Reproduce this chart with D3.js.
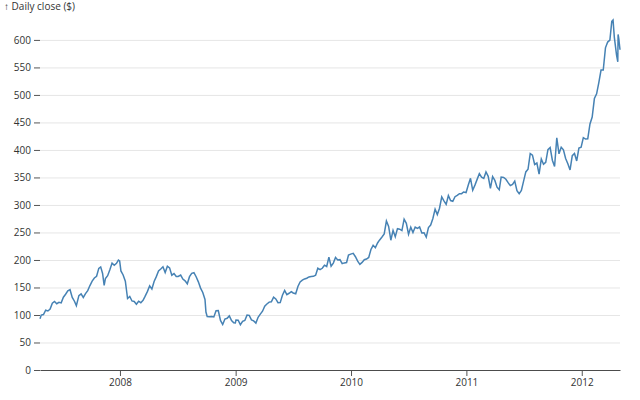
<!DOCTYPE html>
<html>
<head>
<meta charset="utf-8">
<script src="https://cdn.jsdelivr.net/npm/d3@7"></script>
<style>
  html, body { margin: 0; padding: 0; background: #fff; }
  svg { display: block; }
</style>
</head>
<body>
<div id="chart"></div>
<script>
const dates = [
  "2007-04-23","2007-04-27","2007-05-04","2007-05-11","2007-05-18","2007-05-25","2007-06-01","2007-06-08","2007-06-15","2007-06-22","2007-06-29",
  "2007-07-06","2007-07-13","2007-07-20","2007-07-27","2007-08-03","2007-08-10","2007-08-16","2007-08-24","2007-08-31",
  "2007-09-07","2007-09-14","2007-09-21","2007-09-28","2007-10-05","2007-10-12","2007-10-19","2007-10-26","2007-11-01","2007-11-07","2007-11-12","2007-11-16","2007-11-23","2007-11-30",
  "2007-12-07","2007-12-14","2007-12-21","2007-12-27","2007-12-31",
  "2008-01-04","2008-01-11","2008-01-18","2008-01-23","2008-01-25","2008-02-01","2008-02-08","2008-02-15","2008-02-22","2008-02-29",
  "2008-03-07","2008-03-14","2008-03-20","2008-03-28","2008-04-04","2008-04-11","2008-04-18","2008-04-25","2008-05-02","2008-05-09","2008-05-16","2008-05-23","2008-05-30",
  "2008-06-06","2008-06-13","2008-06-20","2008-06-27","2008-07-03","2008-07-11","2008-07-18","2008-07-25","2008-08-01","2008-08-08","2008-08-15","2008-08-22","2008-08-29",
  "2008-09-05","2008-09-12","2008-09-19","2008-09-26","2008-09-29","2008-10-03","2008-10-10","2008-10-17","2008-10-24","2008-10-31",
  "2008-11-07","2008-11-14","2008-11-21","2008-11-28","2008-12-05","2008-12-12","2008-12-19","2008-12-26","2008-12-31",
  "2009-01-02","2009-01-09","2009-01-16","2009-01-23","2009-01-30","2009-02-06","2009-02-13","2009-02-20","2009-02-27",
  "2009-03-06","2009-03-13","2009-03-20","2009-03-27","2009-04-03","2009-04-09","2009-04-17","2009-04-24","2009-05-01","2009-05-08","2009-05-15","2009-05-22","2009-05-29",
  "2009-06-05","2009-06-12","2009-06-19","2009-06-26","2009-07-02","2009-07-10","2009-07-17","2009-07-24","2009-07-31",
  "2009-08-07","2009-08-14","2009-08-21","2009-08-28","2009-09-04","2009-09-11","2009-09-18","2009-09-25",
  "2009-10-02","2009-10-09","2009-10-16","2009-10-23","2009-10-30","2009-11-06","2009-11-13","2009-11-20","2009-11-27",
  "2009-12-04","2009-12-11","2009-12-18","2009-12-24","2009-12-31",
  "2010-01-08","2010-01-15","2010-01-22","2010-01-29","2010-02-05","2010-02-12","2010-02-19","2010-02-26",
  "2010-03-05","2010-03-12","2010-03-19","2010-03-26","2010-04-01","2010-04-09","2010-04-16","2010-04-23","2010-04-30",
  "2010-05-07","2010-05-14","2010-05-21","2010-05-28","2010-06-04","2010-06-11","2010-06-18","2010-06-25",
  "2010-07-02","2010-07-09","2010-07-16","2010-07-23","2010-07-30","2010-08-06","2010-08-13","2010-08-20","2010-08-27",
  "2010-09-03","2010-09-10","2010-09-17","2010-09-24","2010-10-01","2010-10-08","2010-10-15","2010-10-22","2010-10-29",
  "2010-11-05","2010-11-12","2010-11-19","2010-11-26","2010-12-03","2010-12-10","2010-12-17","2010-12-23","2010-12-31",
  "2011-01-07","2011-01-14","2011-01-21","2011-01-28","2011-02-04","2011-02-11","2011-02-18","2011-02-25",
  "2011-03-04","2011-03-11","2011-03-18","2011-03-25","2011-04-01","2011-04-08","2011-04-15","2011-04-21","2011-04-29",
  "2011-05-06","2011-05-13","2011-05-20","2011-05-27","2011-06-03","2011-06-10","2011-06-17","2011-06-24",
  "2011-07-01","2011-07-08","2011-07-15","2011-07-22","2011-07-29","2011-08-05","2011-08-12","2011-08-19","2011-08-26",
  "2011-09-02","2011-09-09","2011-09-16","2011-09-23","2011-09-30","2011-10-07","2011-10-14","2011-10-21","2011-10-28",
  "2011-11-04","2011-11-11","2011-11-18","2011-11-25","2011-12-02","2011-12-09","2011-12-16","2011-12-23","2011-12-30",
  "2012-01-06","2012-01-13","2012-01-20","2012-01-27","2012-02-03","2012-02-10","2012-02-17","2012-02-24",
  "2012-03-02","2012-03-09","2012-03-16","2012-03-23","2012-03-30","2012-04-05","2012-04-09","2012-04-13","2012-04-20","2012-04-24","2012-04-25","2012-04-27","2012-05-01"
];
const closes = [
  93.2,99.9,100.8,108.7,107.3,110.7,121.3,124.5,120.5,123.0,122.0,
  132.3,137.7,143.8,146.0,131.9,125.0,117.1,135.3,138.5,
  131.8,138.8,144.2,153.5,161.5,167.3,170.4,184.7,187.4,175.4,153.8,166.4,171.5,182.2,
  194.3,190.4,193.9,199.8,198.1,
  180.1,172.7,161.4,139.1,130.0,133.8,125.5,124.6,119.5,125.0,
  122.3,126.6,133.3,143.0,153.1,147.1,161.0,169.7,180.0,183.5,187.6,177.1,188.8,
  185.6,172.4,175.3,170.1,170.1,172.6,165.2,162.1,156.7,169.6,175.7,176.8,169.5,
  160.2,148.9,140.9,128.2,105.3,97.1,96.8,97.4,96.4,107.6,
  108.0,90.2,82.6,92.7,94.0,98.3,90.0,85.8,85.4,
  90.8,90.6,82.3,88.4,90.1,99.7,99.3,91.2,89.3,
  85.3,95.9,101.6,106.9,116.0,119.6,123.4,123.9,132.5,129.2,122.4,122.5,135.8,
  144.7,137.0,139.5,142.4,140.0,138.5,151.8,160.0,163.4,
  165.5,166.8,169.2,170.1,170.3,172.2,185.0,182.4,
  184.9,190.5,188.1,204.9,188.5,194.3,204.5,199.9,200.6,
  193.3,194.7,195.4,209.0,210.7,
  212.0,205.9,197.8,192.1,195.5,200.4,201.7,204.6,
  219.0,226.6,222.3,230.9,236.0,241.8,247.4,270.8,261.1,
  235.9,253.8,242.3,256.9,256.0,253.5,274.1,266.7,
  246.9,259.6,249.9,259.9,257.3,260.1,249.1,249.6,241.6,
  258.8,263.4,275.4,292.3,282.5,294.1,314.7,307.5,301.0,
  317.1,308.0,306.7,315.0,317.4,320.6,320.6,323.6,322.6,
  336.1,348.5,326.7,336.1,346.5,356.9,350.6,348.2,
  360.0,352.0,330.0,351.5,344.6,332.4,327.5,350.7,350.1,
  346.7,340.5,335.2,337.4,343.4,325.9,320.3,326.4,
  343.3,360.0,364.9,393.3,390.5,373.6,376.2,356.0,383.6,
  374.1,377.5,400.5,404.3,381.3,369.8,422.0,392.9,405.0,
  400.2,384.6,374.9,363.6,389.7,393.6,380.0,403.4,405.0,
  422.4,419.8,420.3,447.3,459.7,493.4,502.1,522.4,
  545.2,545.2,585.6,596.1,599.6,633.7,636.2,605.2,573.0,560.3,610.0,603.0,582.1
];
const yTicks = [0,50,100,150,200,250,300,350,400,450,500,550,600];
const yLabel = "↑ Daily close ($)";

const width = 640, height = 400;
const marginTop = 20, marginRight = 20, marginBottom = 30, marginLeft = 40;
const FONT = "'Open Sans', sans-serif";

const parse = d3.utcParse("%Y-%m-%d");
const data = dates.map((d, i) => ({date: parse(d), close: closes[i]}));

const x = d3.scaleUtc(d3.extent(data, d => d.date), [marginLeft, width - marginRight]);
const y = d3.scaleLinear([0, d3.max(data, d => d.close)], [height - marginBottom, marginTop]);

const line = d3.line().x(d => x(d.date)).y(d => y(d.close));

const svg = d3.select("#chart").append("svg")
  .attr("width", width).attr("height", height)
  .attr("viewBox", [0, 0, width, height]);

svg.append("g")
  .attr("transform", `translate(0,${height - marginBottom})`)
  .call(d3.axisBottom(x).ticks(width / 80).tickSizeOuter(0))
  .attr("font-family", FONT)
  .attr("font-size", 10)
  .call(g => g.selectAll("text").attr("fill", "#333"))
  .call(g => g.selectAll(".domain, .tick line").attr("stroke", "#555"));

svg.append("g")
  .attr("transform", `translate(${marginLeft},0)`)
  .call(d3.axisLeft(y).tickValues(yTicks))
  .attr("font-family", FONT)
  .attr("font-size", 10)
  .call(g => g.select(".domain").remove())
  .call(g => g.selectAll(".tick line").attr("stroke", "#555"))
  .call(g => g.selectAll("text").attr("fill", "#333"))
  .call(g => g.selectAll(".tick line").clone()
      .attr("x2", width - marginLeft - marginRight)
      .attr("stroke", "#000")
      .attr("stroke-opacity", 0.1))
  .call(g => g.append("text")
      .attr("x", -marginLeft + 4)
      .attr("y", 10)
      .attr("fill", "#333")
      .attr("text-anchor", "start")
      .text(yLabel));

svg.append("path")
  .datum(data)
  .attr("fill", "none")
  .attr("stroke", "steelblue")
  .attr("stroke-width", 1.5)
  .attr("d", line);
</script>
</body>
</html>
